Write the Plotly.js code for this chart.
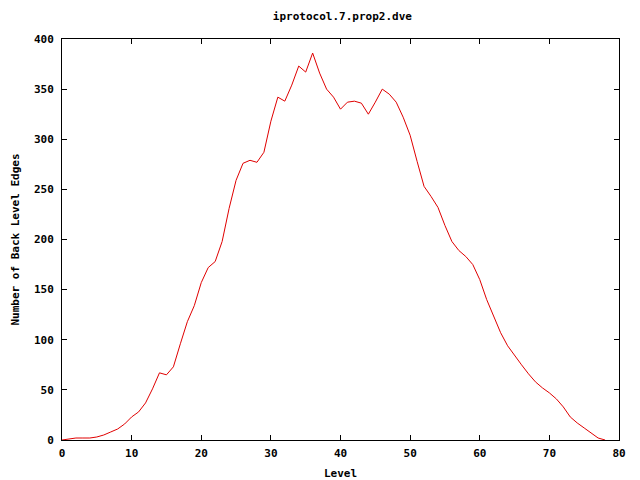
<!DOCTYPE html>
<html><head><meta charset="utf-8">
<script src="https://cdn.plot.ly/plotly-3.0.1.min.js"></script>
<style>html,body{margin:0;padding:0;background:#fff}#c{width:640px;height:480px}</style>
</head><body><div id="c"></div>
<script>
const levels = [0,1,2,3,4,5,6,7,8,9,10,11,12,13,14,15,16,17,18,19,20,21,22,23,24,25,26,27,28,29,30,31,32,33,34,35,36,37,38,39,40,41,42,43,44,45,46,47,48,49,50,51,52,53,54,55,56,57,58,59,60,61,62,63,64,65,66,67,68,69,70,71,72,73,74,75,76,77,78];
const edges = [0,1,2,2,2,3,5,8,11,16,23,28,37,51,67,65,73,96,118,134,157,172,178,198,231,259,276,279,277,287,318,342,338,354,373,367,386,366,350,342,330,337,338,336,325,337,350,345,337,322,304,278,253,243,232,214,198,189,183,175,160,140,123,107,94,84,75,66,58,52,47,41,33,23,17,12,7,2,0];
const xTicks = [0,10,20,30,40,50,60,70,80];
const yTicks = [0,50,100,150,200,250,300,350,400];
const font = {family:'"DejaVu Sans Mono", monospace', size:11, color:'#000'};
const axisCommon = {showgrid:false, zeroline:false, showline:true, linecolor:'#000', linewidth:1, mirror:'ticks', ticks:'inside', ticklen:5, tickcolor:'#000', tickfont:{family:font.family, size:11, color:'#000', weight:'bold'}};
Plotly.newPlot('c', [{x:levels, y:edges, type:'scatter', mode:'lines', line:{color:'#e00000', width:1}, hoverinfo:'none'}], {
  width:640, height:480,
  paper_bgcolor:'#fff', plot_bgcolor:'#fff',
  margin:{l:62, r:21, t:39, b:40},
  showlegend:false,
  font: font,
  title:{text:'iprotocol.7.prop2.dve', x:0.535, xanchor:'center', y:0.967, yanchor:'middle', font:{family:font.family, size:11, color:'#000', weight:'bold'}},
  xaxis: Object.assign({}, axisCommon, {range:[0,80], tickvals:xTicks, ticktext:xTicks.map(String), ticklabelstandoff:3, title:{text:'Level', standoff:14, font:{family:font.family, size:11, color:'#000', weight:'bold'}}}),
  yaxis: Object.assign({}, axisCommon, {range:[0,400], tickvals:yTicks, ticktext:yTicks.map(String), ticklabelstandoff:5, title:{text:'Number of Back Level Edges', standoff:12, font:{family:font.family, size:11, color:'#000', weight:'bold'}}})
}, {staticPlot:true, displayModeBar:false});
</script></body></html>
